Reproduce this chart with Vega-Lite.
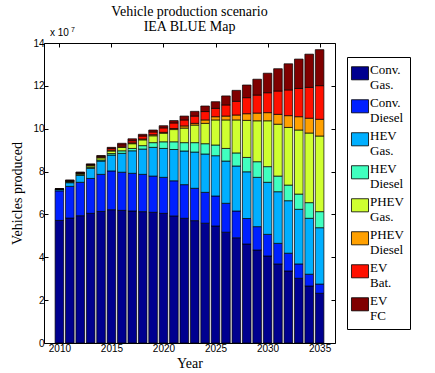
{
"$schema": "https://vega.github.io/schema/vega-lite/v6.json",
"width": 291, "height": 300,
"autosize": "none",
"padding": {"left": 44, "top": 43, "right": 100, "bottom": 30},
"background": "white",
"title": {"text": ["Vehicle production scenario", "IEA BLUE Map"], "font": "Liberation Serif", "fontSize": 14, "fontWeight": "normal", "anchor": "middle", "offset": -8, "lineHeight": 15, "color": "black"},
"config": {"view": {"stroke": null}, "axis": {"domainColor": "black", "tickColor": "black", "labelColor": "black", "labelFont": "Liberation Sans", "labelFontSize": 10, "titleFont": "Liberation Serif", "titleFontSize": 14, "titleFontWeight": "normal", "titleColor": "black", "grid": false, "tickSize": -4, "domainWidth": 1, "tickWidth": 1}},
"layer": [
{"data": {"values": [
{"Year":2010,"Type":"Conv. Gas.","Value":5.72},{"Year":2010,"Type":"Conv. Diesel","Value":1.38},{"Year":2010,"Type":"HEV Gas.","Value":0.06},{"Year":2010,"Type":"HEV Diesel","Value":0.01},{"Year":2010,"Type":"PHEV Gas.","Value":0.01},{"Year":2010,"Type":"PHEV Diesel","Value":0.005},{"Year":2010,"Type":"EV Bat.","Value":0.005},{"Year":2010,"Type":"EV FC","Value":0.01},
{"Year":2011,"Type":"Conv. Gas.","Value":5.83},{"Year":2011,"Type":"Conv. Diesel","Value":1.48},{"Year":2011,"Type":"HEV Gas.","Value":0.17},{"Year":2011,"Type":"HEV Diesel","Value":0.03},{"Year":2011,"Type":"PHEV Gas.","Value":0.03},{"Year":2011,"Type":"PHEV Diesel","Value":0.02},{"Year":2011,"Type":"EV Bat.","Value":0.02},{"Year":2011,"Type":"EV FC","Value":0.03},
{"Year":2012,"Type":"Conv. Gas.","Value":5.94},{"Year":2012,"Type":"Conv. Diesel","Value":1.56},{"Year":2012,"Type":"HEV Gas.","Value":0.32},{"Year":2012,"Type":"HEV Diesel","Value":0.04},{"Year":2012,"Type":"PHEV Gas.","Value":0.05},{"Year":2012,"Type":"PHEV Diesel","Value":0.02},{"Year":2012,"Type":"EV Bat.","Value":0.02},{"Year":2012,"Type":"EV FC","Value":0.03},
{"Year":2013,"Type":"Conv. Gas.","Value":6.05},{"Year":2013,"Type":"Conv. Diesel","Value":1.63},{"Year":2013,"Type":"HEV Gas.","Value":0.47},{"Year":2013,"Type":"HEV Diesel","Value":0.05},{"Year":2013,"Type":"PHEV Gas.","Value":0.07},{"Year":2013,"Type":"PHEV Diesel","Value":0.03},{"Year":2013,"Type":"EV Bat.","Value":0.03},{"Year":2013,"Type":"EV FC","Value":0.03},
{"Year":2014,"Type":"Conv. Gas.","Value":6.14},{"Year":2014,"Type":"Conv. Diesel","Value":1.73},{"Year":2014,"Type":"HEV Gas.","Value":0.62},{"Year":2014,"Type":"HEV Diesel","Value":0.05},{"Year":2014,"Type":"PHEV Gas.","Value":0.10},{"Year":2014,"Type":"PHEV Diesel","Value":0.03},{"Year":2014,"Type":"EV Bat.","Value":0.04},{"Year":2014,"Type":"EV FC","Value":0.04},
{"Year":2015,"Type":"Conv. Gas.","Value":6.22},{"Year":2015,"Type":"Conv. Diesel","Value":1.81},{"Year":2015,"Type":"HEV Gas.","Value":0.74},{"Year":2015,"Type":"HEV Diesel","Value":0.07},{"Year":2015,"Type":"PHEV Gas.","Value":0.12},{"Year":2015,"Type":"PHEV Diesel","Value":0.04},{"Year":2015,"Type":"EV Bat.","Value":0.08},{"Year":2015,"Type":"EV FC","Value":0.05},
{"Year":2016,"Type":"Conv. Gas.","Value":6.19},{"Year":2016,"Type":"Conv. Diesel","Value":1.78},{"Year":2016,"Type":"HEV Gas.","Value":0.88},{"Year":2016,"Type":"HEV Diesel","Value":0.12},{"Year":2016,"Type":"PHEV Gas.","Value":0.16},{"Year":2016,"Type":"PHEV Diesel","Value":0.03},{"Year":2016,"Type":"EV Bat.","Value":0.08},{"Year":2016,"Type":"EV FC","Value":0.08},
{"Year":2017,"Type":"Conv. Gas.","Value":6.16},{"Year":2017,"Type":"Conv. Diesel","Value":1.76},{"Year":2017,"Type":"HEV Gas.","Value":1.05},{"Year":2017,"Type":"HEV Diesel","Value":0.11},{"Year":2017,"Type":"PHEV Gas.","Value":0.22},{"Year":2017,"Type":"PHEV Diesel","Value":0.04},{"Year":2017,"Type":"EV Bat.","Value":0.10},{"Year":2017,"Type":"EV FC","Value":0.09},
{"Year":2018,"Type":"Conv. Gas.","Value":6.13},{"Year":2018,"Type":"Conv. Diesel","Value":1.74},{"Year":2018,"Type":"HEV Gas.","Value":1.18},{"Year":2018,"Type":"HEV Diesel","Value":0.16},{"Year":2018,"Type":"PHEV Gas.","Value":0.27},{"Year":2018,"Type":"PHEV Diesel","Value":0.04},{"Year":2018,"Type":"EV Bat.","Value":0.14},{"Year":2018,"Type":"EV FC","Value":0.08},
{"Year":2019,"Type":"Conv. Gas.","Value":6.10},{"Year":2019,"Type":"Conv. Diesel","Value":1.69},{"Year":2019,"Type":"HEV Gas.","Value":1.34},{"Year":2019,"Type":"HEV Diesel","Value":0.22},{"Year":2019,"Type":"PHEV Gas.","Value":0.32},{"Year":2019,"Type":"PHEV Diesel","Value":0.05},{"Year":2019,"Type":"EV Bat.","Value":0.13},{"Year":2019,"Type":"EV FC","Value":0.09},
{"Year":2020,"Type":"Conv. Gas.","Value":6.05},{"Year":2020,"Type":"Conv. Diesel","Value":1.68},{"Year":2020,"Type":"HEV Gas.","Value":1.35},{"Year":2020,"Type":"HEV Diesel","Value":0.31},{"Year":2020,"Type":"PHEV Gas.","Value":0.40},{"Year":2020,"Type":"PHEV Diesel","Value":0.04},{"Year":2020,"Type":"EV Bat.","Value":0.21},{"Year":2020,"Type":"EV FC","Value":0.10},
{"Year":2021,"Type":"Conv. Gas.","Value":5.93},{"Year":2021,"Type":"Conv. Diesel","Value":1.64},{"Year":2021,"Type":"HEV Gas.","Value":1.46},{"Year":2021,"Type":"HEV Diesel","Value":0.36},{"Year":2021,"Type":"PHEV Gas.","Value":0.57},{"Year":2021,"Type":"PHEV Diesel","Value":0.05},{"Year":2021,"Type":"EV Bat.","Value":0.26},{"Year":2021,"Type":"EV FC","Value":0.11},
{"Year":2022,"Type":"Conv. Gas.","Value":5.82},{"Year":2022,"Type":"Conv. Diesel","Value":1.57},{"Year":2022,"Type":"HEV Gas.","Value":1.57},{"Year":2022,"Type":"HEV Diesel","Value":0.39},{"Year":2022,"Type":"PHEV Gas.","Value":0.68},{"Year":2022,"Type":"PHEV Diesel","Value":0.10},{"Year":2022,"Type":"EV Bat.","Value":0.28},{"Year":2022,"Type":"EV FC","Value":0.18},
{"Year":2023,"Type":"Conv. Gas.","Value":5.71},{"Year":2023,"Type":"Conv. Diesel","Value":1.51},{"Year":2023,"Type":"HEV Gas.","Value":1.69},{"Year":2023,"Type":"HEV Diesel","Value":0.44},{"Year":2023,"Type":"PHEV Gas.","Value":0.82},{"Year":2023,"Type":"PHEV Diesel","Value":0.08},{"Year":2023,"Type":"EV Bat.","Value":0.34},{"Year":2023,"Type":"EV FC","Value":0.22},
{"Year":2024,"Type":"Conv. Gas.","Value":5.59},{"Year":2024,"Type":"Conv. Diesel","Value":1.44},{"Year":2024,"Type":"HEV Gas.","Value":1.79},{"Year":2024,"Type":"HEV Diesel","Value":0.48},{"Year":2024,"Type":"PHEV Gas.","Value":0.95},{"Year":2024,"Type":"PHEV Diesel","Value":0.16},{"Year":2024,"Type":"EV Bat.","Value":0.39},{"Year":2024,"Type":"EV FC","Value":0.26},
{"Year":2025,"Type":"Conv. Gas.","Value":5.46},{"Year":2025,"Type":"Conv. Diesel","Value":1.40},{"Year":2025,"Type":"HEV Gas.","Value":1.88},{"Year":2025,"Type":"HEV Diesel","Value":0.50},{"Year":2025,"Type":"PHEV Gas.","Value":1.17},{"Year":2025,"Type":"PHEV Diesel","Value":0.15},{"Year":2025,"Type":"EV Bat.","Value":0.39},{"Year":2025,"Type":"EV FC","Value":0.31},
{"Year":2026,"Type":"Conv. Gas.","Value":5.17},{"Year":2026,"Type":"Conv. Diesel","Value":1.35},{"Year":2026,"Type":"HEV Gas.","Value":1.97},{"Year":2026,"Type":"HEV Diesel","Value":0.59},{"Year":2026,"Type":"PHEV Gas.","Value":1.33},{"Year":2026,"Type":"PHEV Diesel","Value":0.18},{"Year":2026,"Type":"EV Bat.","Value":0.52},{"Year":2026,"Type":"EV FC","Value":0.42},
{"Year":2027,"Type":"Conv. Gas.","Value":4.91},{"Year":2027,"Type":"Conv. Diesel","Value":1.25},{"Year":2027,"Type":"HEV Gas.","Value":2.10},{"Year":2027,"Type":"HEV Diesel","Value":0.61},{"Year":2027,"Type":"PHEV Gas.","Value":1.54},{"Year":2027,"Type":"PHEV Diesel","Value":0.23},{"Year":2027,"Type":"EV Bat.","Value":0.64},{"Year":2027,"Type":"EV FC","Value":0.51},
{"Year":2028,"Type":"Conv. Gas.","Value":4.62},{"Year":2028,"Type":"Conv. Diesel","Value":1.19},{"Year":2028,"Type":"HEV Gas.","Value":2.18},{"Year":2028,"Type":"HEV Diesel","Value":0.67},{"Year":2028,"Type":"PHEV Gas.","Value":1.73},{"Year":2028,"Type":"PHEV Diesel","Value":0.31},{"Year":2028,"Type":"EV Bat.","Value":0.75},{"Year":2028,"Type":"EV FC","Value":0.59},
{"Year":2029,"Type":"Conv. Gas.","Value":4.34},{"Year":2029,"Type":"Conv. Diesel","Value":1.09},{"Year":2029,"Type":"HEV Gas.","Value":2.30},{"Year":2029,"Type":"HEV Diesel","Value":0.73},{"Year":2029,"Type":"PHEV Gas.","Value":1.91},{"Year":2029,"Type":"PHEV Diesel","Value":0.36},{"Year":2029,"Type":"EV Bat.","Value":0.84},{"Year":2029,"Type":"EV FC","Value":0.74},
{"Year":2030,"Type":"Conv. Gas.","Value":4.06},{"Year":2030,"Type":"Conv. Diesel","Value":1.01},{"Year":2030,"Type":"HEV Gas.","Value":2.43},{"Year":2030,"Type":"HEV Diesel","Value":0.73},{"Year":2030,"Type":"PHEV Gas.","Value":2.14},{"Year":2030,"Type":"PHEV Diesel","Value":0.38},{"Year":2030,"Type":"EV Bat.","Value":0.93},{"Year":2030,"Type":"EV FC","Value":0.91},
{"Year":2031,"Type":"Conv. Gas.","Value":3.69},{"Year":2031,"Type":"Conv. Diesel","Value":0.96},{"Year":2031,"Type":"HEV Gas.","Value":2.41},{"Year":2031,"Type":"HEV Diesel","Value":0.73},{"Year":2031,"Type":"PHEV Gas.","Value":2.42},{"Year":2031,"Type":"PHEV Diesel","Value":0.46},{"Year":2031,"Type":"EV Bat.","Value":1.09},{"Year":2031,"Type":"EV FC","Value":1.04},
{"Year":2032,"Type":"Conv. Gas.","Value":3.36},{"Year":2032,"Type":"Conv. Diesel","Value":0.83},{"Year":2032,"Type":"HEV Gas.","Value":2.45},{"Year":2032,"Type":"HEV Diesel","Value":0.73},{"Year":2032,"Type":"PHEV Gas.","Value":2.69},{"Year":2032,"Type":"PHEV Diesel","Value":0.55},{"Year":2032,"Type":"EV Bat.","Value":1.20},{"Year":2032,"Type":"EV FC","Value":1.22},
{"Year":2033,"Type":"Conv. Gas.","Value":3.02},{"Year":2033,"Type":"Conv. Diesel","Value":0.67},{"Year":2033,"Type":"HEV Gas.","Value":2.55},{"Year":2033,"Type":"HEV Diesel","Value":0.71},{"Year":2033,"Type":"PHEV Gas.","Value":2.99},{"Year":2033,"Type":"PHEV Diesel","Value":0.62},{"Year":2033,"Type":"EV Bat.","Value":1.32},{"Year":2033,"Type":"EV FC","Value":1.37},
{"Year":2034,"Type":"Conv. Gas.","Value":2.66},{"Year":2034,"Type":"Conv. Diesel","Value":0.55},{"Year":2034,"Type":"HEV Gas.","Value":2.61},{"Year":2034,"Type":"HEV Diesel","Value":0.73},{"Year":2034,"Type":"PHEV Gas.","Value":3.25},{"Year":2034,"Type":"PHEV Diesel","Value":0.69},{"Year":2034,"Type":"EV Bat.","Value":1.44},{"Year":2034,"Type":"EV FC","Value":1.55},
{"Year":2035,"Type":"Conv. Gas.","Value":2.32},{"Year":2035,"Type":"Conv. Diesel","Value":0.43},{"Year":2035,"Type":"HEV Gas.","Value":2.63},{"Year":2035,"Type":"HEV Diesel","Value":0.75},{"Year":2035,"Type":"PHEV Gas.","Value":3.53},{"Year":2035,"Type":"PHEV Diesel","Value":0.78},{"Year":2035,"Type":"EV Bat.","Value":1.57},{"Year":2035,"Type":"EV FC","Value":1.68}
]},
"transform": [{"lookup": "Type", "from": {"data": {"values": [
{"Type": "Conv. Gas.", "k": 1}, {"Type": "Conv. Diesel", "k": 2}, {"Type": "HEV Gas.", "k": 3}, {"Type": "HEV Diesel", "k": 4},
{"Type": "PHEV Gas.", "k": 5}, {"Type": "PHEV Diesel", "k": 6}, {"Type": "EV Bat.", "k": 7}, {"Type": "EV FC", "k": 8}]}, "key": "Type", "fields": ["k"]}}],
"mark": {"type": "bar", "width": 8.6, "stroke": "black", "strokeWidth": 0.7},
"encoding": {
"x": {"field": "Year", "type": "quantitative", "scale": {"domain": [2009, 2036], "nice": false, "zero": false}, "axis": {"orient": "bottom", "values": [2010, 2015, 2020, 2025, 2030, 2035], "format": "d", "title": "Year", "labelPadding": 4, "titlePadding": 3}},
"y": {"field": "Value", "type": "quantitative", "stack": "zero", "scale": {"domain": [0, 14], "nice": false}, "axis": {"orient": "left", "values": [0, 2, 4, 6, 8, 10, 12, 14], "title": "Vehicles produced", "labelPadding": 4, "titlePadding": 8}},
"order": {"field": "k", "type": "quantitative", "sort": "ascending"},
"color": {"field": "Type", "type": "nominal",
 "sort": ["Conv. Gas.", "Conv. Diesel", "HEV Gas.", "HEV Diesel", "PHEV Gas.", "PHEV Diesel", "EV Bat.", "EV FC"],
 "scale": {"domain": ["Conv. Gas.", "Conv. Diesel", "HEV Gas.", "HEV Diesel", "PHEV Gas.", "PHEV Diesel", "EV Bat.", "EV FC"], "range": ["#00008F", "#0020FF", "#00AFFF", "#40FFBF", "#CFFF30", "#FFA000", "#FF1000", "#800000"]},
 "legend": {"title": null, "orient": "none", "legendX": 303, "legendY": 14, "symbolType": "M-1.3,-0.5H1.3V1.5H-1.3Z", "symbolSize": 172, "symbolStrokeColor": "black", "symbolStrokeWidth": 0.8, "symbolOpacity": 1, "labelExpr": "split(datum.label, ' ')", "labelFont": "Liberation Serif", "labelFontSize": 13, "labelColor": "black", "labelOffset": 3, "rowPadding": 4, "padding": 6, "strokeColor": "black", "fillColor": "white", "labelLimit": 100}}
}},
{"data": {"values": [{"label": "x 10"}]},
"mark": {"type": "text", "align": "left", "baseline": "bottom", "dx": 1, "dy": -5, "font": "Liberation Sans", "fontSize": 10, "color": "black"},
"encoding": {
"text": {"field": "label"},
"x": {"datum": 2009, "type": "quantitative", "axis": {"orient": "top", "values": [2010, 2015, 2020, 2025, 2030, 2035], "labels": false, "title": null}},
"y": {"datum": 14, "type": "quantitative", "axis": {"orient": "right", "values": [0, 2, 4, 6, 8, 10, 12, 14], "labels": false, "title": null}}
}},
{"data": {"values": [{"label": "7"}]},
"mark": {"type": "text", "align": "left", "baseline": "bottom", "dx": 22, "dy": -10, "font": "Liberation Sans", "fontSize": 7, "color": "black"},
"encoding": {
"text": {"field": "label"},
"x": {"datum": 2009, "type": "quantitative", "axis": null},
"y": {"datum": 14, "type": "quantitative", "axis": null}
}}
],
"resolve": {"axis": {"x": "independent", "y": "independent"}}
}
